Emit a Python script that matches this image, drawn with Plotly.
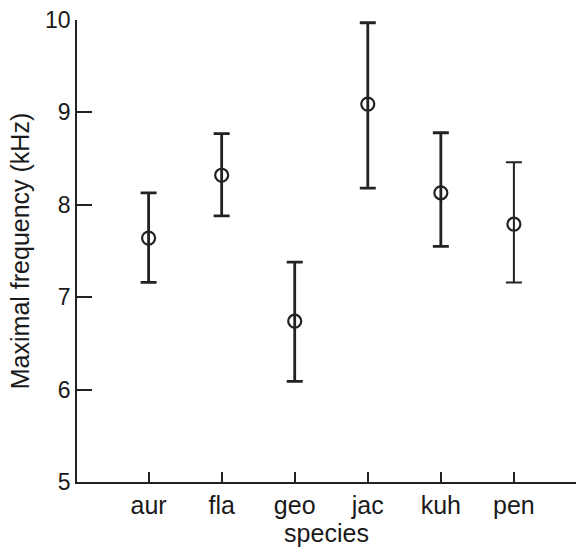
import plotly.graph_objects as go

species = ["aur", "fla", "geo", "jac", "kuh", "pen"]
mean_khz = [7.64, 8.32, 6.74, 9.09, 8.13, 7.79]
upper_khz = [8.13, 8.77, 7.38, 9.97, 8.78, 8.46]
lower_khz = [7.16, 7.88, 6.09, 8.18, 7.55, 7.16]
y_ticks = [5, 6, 7, 8, 9, 10]

pos = list(range(1, len(species) + 1))
err_plus = [u - m for u, m in zip(upper_khz, mean_khz)]
err_minus = [m - l for m, l in zip(mean_khz, lower_khz)]

col = "#222222"
fig = go.Figure()


def add(sl, thick):
    fig.add_trace(go.Scatter(
        x=pos[sl], y=mean_khz[sl], mode="markers",
        marker=dict(symbol="circle-open", size=13, color=col, line=dict(width=2.2, color=col)),
        error_y=dict(type="data", symmetric=False, array=err_plus[sl], arrayminus=err_minus[sl],
                     thickness=thick, width=8, color=col),
        showlegend=False,
    ))


add(slice(0, 5), 2.8)
add(slice(5, 6), 2.0)

font = "Liberation Sans, Arial, sans-serif"
fig.update_layout(
    width=576, height=552,
    margin=dict(l=77, r=0, t=20, b=70),
    plot_bgcolor="white", paper_bgcolor="white",
    font=dict(family=font, color="#1a1a1a", size=23),
)
fig.update_xaxes(
    range=[0.02, 6.85], tickmode="array", tickvals=pos, ticktext=species,
    showline=True, linecolor=col, linewidth=1.5, mirror=False,
    ticks="inside", ticklen=10, tickwidth=1.5, tickcolor=col,
    showgrid=False, zeroline=False,
    tickfont=dict(size=25),
    title=dict(text="species", font=dict(size=25), standoff=6),
)
fig.update_yaxes(
    range=[5, 10], tickmode="array", tickvals=y_ticks,
    showline=True, linecolor=col, linewidth=1.5, mirror=False,
    ticks="inside", ticklen=15, tickwidth=2, tickcolor=col,
    showgrid=False, zeroline=False,
    tickfont=dict(size=23),
    title=dict(text="Maximal frequency (kHz)", font=dict(size=25), standoff=8),
)
fig.write_html("out.html")
